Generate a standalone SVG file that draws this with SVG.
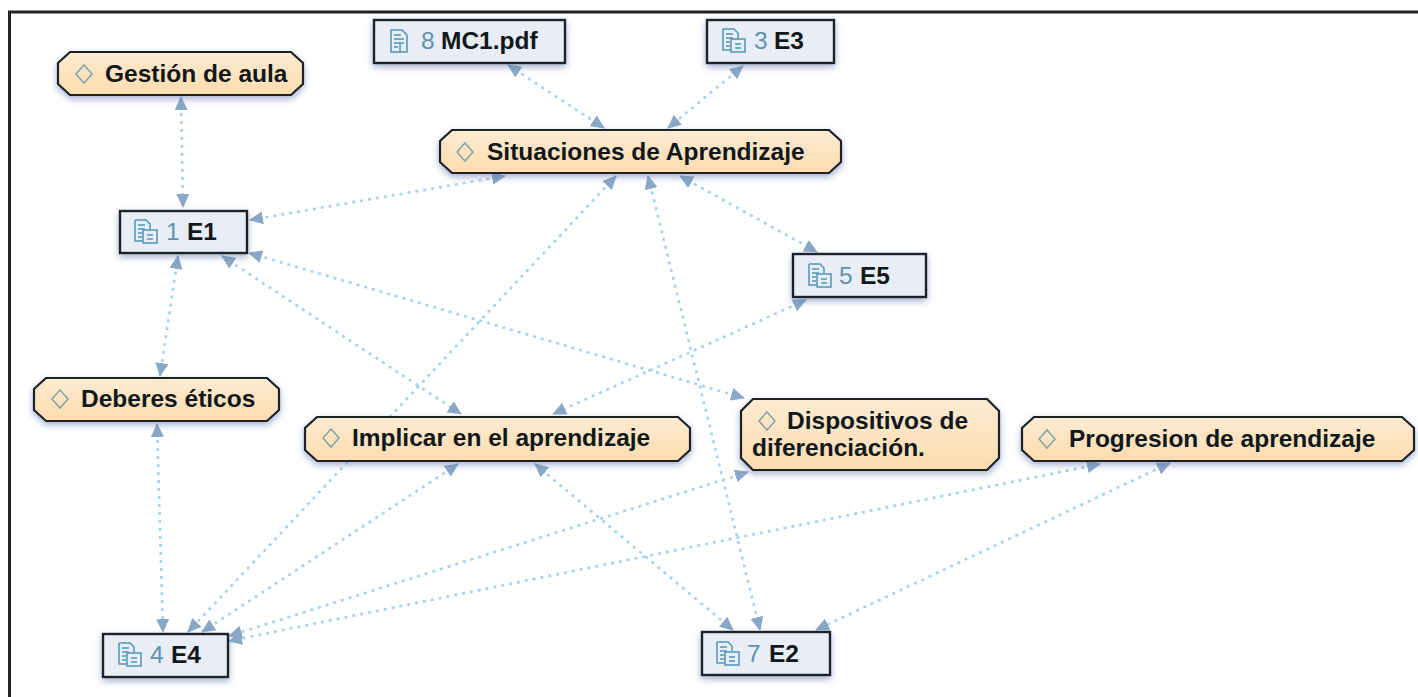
<svg xmlns="http://www.w3.org/2000/svg" width="1418" height="697" viewBox="0 0 1418 697">
<style>
.t{font-family:"Liberation Sans",Arial,sans-serif;font-size:24.5px;font-weight:bold;fill:#10181c}
.n{font-family:"Liberation Sans",Arial,sans-serif;font-size:24.5px;fill:#5f93ad}
.c{fill:url(#g);stroke:#1c2226;stroke-width:2.2}
.d{fill:#e9edf5;stroke:#1c2226;stroke-width:2.4}
.l{fill:none;stroke:#a6d2ee;stroke-width:2.6;stroke-dasharray:3 5;marker-start:url(#a);marker-end:url(#a)}
.i{fill:none;stroke:#4f97b5;stroke-width:1.5}
</style>
<defs>
<marker id="a" viewBox="0 0 14 13" refX="13" refY="6.500" markerWidth="14" markerHeight="13" markerUnits="userSpaceOnUse" orient="auto-start-reverse"><path d="M0 0L14 6.500L0 13Z" fill="#8aa8c6"/></marker>
<filter id="s" x="-10%" y="-30%" width="120%" height="170%"><feDropShadow dx="0" dy="3" stdDeviation="3.500" flood-color="#5a70a8" flood-opacity=".55"/></filter>
<linearGradient id="g" x1="0" y1="0" x2="0" y2="1"><stop offset="0" stop-color="#fdebd2"/><stop offset="1" stop-color="#fcdcae"/></linearGradient>
<g id="dm"><path class="i" d="M0-9L8 0L0 9L-8 0Z" style="stroke:#7fa5a5"/></g>
<g id="stack"><path class="i" d="M-10-12H1L5-8V-3M-10-12V9H-2M-7-7H0M-7-3H0M-7 1H-3M-7 5H-3"/><path class="i" d="M-2-2H12V11H-2ZM2 3H8M2 7H8"/></g>
<g id="doc"><path class="i" d="M-8-11H3L8-6V11H-8ZM-5-6H2M-5-2H5M-5 2H5M-5 6H-1M1 2V11"/></g>
</defs>
<rect x="9.500" y="12" width="1410" height="690" fill="#fff" stroke="#222" stroke-width="3"/>
<g id="connectors">
<path class="l" d="M181 97L183 207"/>
<path class="l" d="M508 65L604 128"/>
<path class="l" d="M743 66L668 128"/>
<path class="l" d="M505 176L250 220"/>
<path class="l" d="M680 176L817 252"/>
<path class="l" d="M178 256L160 376"/>
<path class="l" d="M222 256L461 414"/>
<path class="l" d="M249 253L744 398"/>
<path class="l" d="M616 176L188 632"/>
<path class="l" d="M648 176L760 630"/>
<path class="l" d="M806 300L553 414"/>
<path class="l" d="M157 424L163 632"/>
<path class="l" d="M458 464L202 632"/>
<path class="l" d="M535 464L733 630"/>
<path class="l" d="M748 472L229 636"/>
<path class="l" d="M1100 464L229 641"/>
<path class="l" d="M1170 463L816 630"/>
</g>
<g id="n-gestion"><path class="c" filter="url(#s)" d="M70 52H291L303 63V84L291 95H70L58 84V63Z"/><use href="#dm" x="84" y="74"/><text class="t" x="105" y="82">Gestión de aula</text></g>
<g id="n-e1"><rect class="d" filter="url(#s)" x="120" y="211" width="127" height="42"/><use href="#stack" x="145" y="232"/><text class="n" x="166" y="240">1</text><text class="t" x="187" y="240">E1</text></g>
<g id="n-mc1"><rect class="d" filter="url(#s)" x="374" y="20" width="191" height="43"/><use href="#doc" x="399" y="41"/><text class="n" x="421" y="49">8</text><text class="t" x="441" y="49">MC1.pdf</text></g>
<g id="n-e3"><rect class="d" filter="url(#s)" x="707" y="20" width="127" height="43"/><use href="#stack" x="733" y="41"/><text class="n" x="754" y="49">3</text><text class="t" x="774" y="49">E3</text></g>
<g id="n-situaciones"><path class="c" filter="url(#s)" d="M452 130H829L841 141V162L829 173H452L440 162V141Z"/><use href="#dm" x="465" y="152"/><text class="t" x="487" y="160">Situaciones de Aprendizaje</text></g>
<g id="n-e5"><rect class="d" filter="url(#s)" x="793" y="254" width="133" height="43"/><use href="#stack" x="819" y="276"/><text class="n" x="839" y="284">5</text><text class="t" x="860" y="284">E5</text></g>
<g id="n-deberes"><path class="c" filter="url(#s)" d="M46 378H267L279 389V410L267 421H46L34 410V389Z"/><use href="#dm" x="60" y="399"/><text class="t" x="81" y="407">Deberes éticos</text></g>
<g id="n-implicar"><path class="c" filter="url(#s)" d="M317 417H678L690 428V450L678 461H317L305 450V428Z"/><use href="#dm" x="331" y="438"/><text class="t" x="352" y="446">Implicar en el aprendizaje</text></g>
<g id="n-dispositivos"><path class="c" filter="url(#s)" d="M753 399H987L999 411V458L987 470H753L741 458V411Z"/><use href="#dm" x="767" y="421"/><text class="t" x="787" y="429">Dispositivos de</text><text class="t" x="752" y="456">diferenciación.</text></g>
<g id="n-progresion"><path class="c" filter="url(#s)" d="M1034 417H1402L1414 428V450L1402 461H1034L1022 450V428Z"/><use href="#dm" x="1047" y="439"/><text class="t" x="1069" y="447">Progresion de aprendizaje</text></g>
<g id="n-e4"><rect class="d" filter="url(#s)" x="103" y="634" width="125" height="43"/><use href="#stack" x="129" y="655"/><text class="n" x="150" y="663">4</text><text class="t" x="171" y="663">E4</text></g>
<g id="n-e2"><rect class="d" filter="url(#s)" x="702" y="632" width="128" height="43"/><use href="#stack" x="727" y="654"/><text class="n" x="747" y="662">7</text><text class="t" x="769" y="662">E2</text></g>
</svg>
